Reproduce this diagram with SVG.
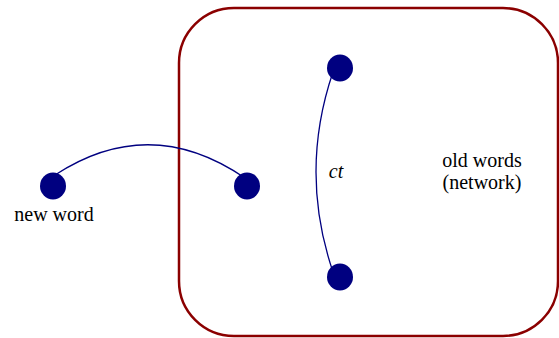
<svg xmlns="http://www.w3.org/2000/svg" width="559" height="338" viewBox="0 0 559 338">
<style>
.node{fill:#000080;stroke:none}
.edge{fill:none;stroke:#000080;stroke-width:1.3}
.lbl{font-family:"Times New Roman","Liberation Serif","DejaVu Serif",serif;font-size:20px;fill:#000}
</style>
<rect width="559" height="338" fill="#fff"/>
<g id="network-box">
<rect x="179" y="8" width="379" height="328" rx="55" ry="55" fill="none" stroke="#8B0000" stroke-width="2.5"/>
<text class="lbl" x="482" y="167" text-anchor="middle">old words</text>
<text class="lbl" x="482" y="189" text-anchor="middle">(network)</text>
</g>
<g id="connectors">
<path class="edge" d="M55,175 Q150,113 245,178"/>
<path class="edge" d="M333,72 Q299,172 333,272"/>
<text class="lbl" x="336" y="178" text-anchor="middle" font-style="italic">ct</text>
</g>
<g id="new-word">
<ellipse class="node" cx="53" cy="186" rx="13" ry="13.5"/>
<text class="lbl" x="54" y="221" text-anchor="middle">new word</text>
</g>
<g id="old-node-left">
<ellipse class="node" cx="247" cy="186" rx="13" ry="13.5"/>
</g>
<g id="old-node-top">
<ellipse class="node" cx="340" cy="68" rx="13" ry="13.5"/>
</g>
<g id="old-node-bottom">
<ellipse class="node" cx="340" cy="277" rx="13" ry="13.5"/>
</g>
</svg>
